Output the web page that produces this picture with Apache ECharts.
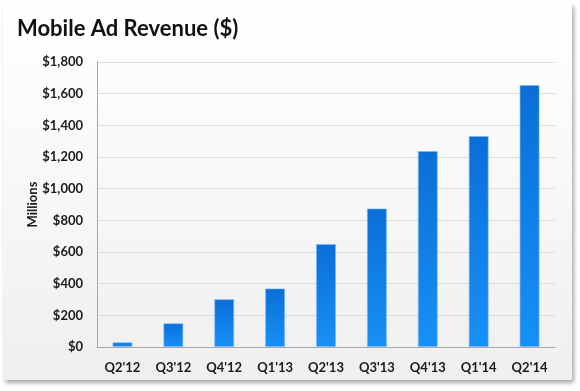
<!DOCTYPE html>
<html>
<head>
<meta charset="utf-8">
<script src="https://cdn.jsdelivr.net/npm/echarts@6/dist/echarts.min.js"></script>
<style>
html,body{margin:0;padding:0;width:580px;height:391px;background:#ffffff;overflow:hidden;}
#card{position:absolute;left:3px;top:3px;width:569px;height:377px;border-radius:3px;
background:linear-gradient(#ffffff 0%,#f9f9f9 40%,#efefef 100%);
box-shadow:2px 3px 4px rgba(0,0,0,0.35);}
#main{position:absolute;left:0;top:0;width:580px;height:391px;}
</style>
</head>
<body>
<div id="card"></div>
<div id="main"></div>
<script>
const categories = ["Q2'12","Q3'12","Q4'12","Q1'13","Q2'13","Q3'13","Q4'13","Q1'14","Q2'14"];
const revenue = [30, 150, 302, 370, 650, 875, 1238, 1333, 1655];
const yTicks = {min: 0, max: 1800, interval: 200};
const titleText = "Mobile Ad Revenue ($)";
const yAxisName = "Millions";

const chart = echarts.init(document.getElementById('main'), null, {renderer: 'canvas'});
chart.setOption({
  backgroundColor: 'transparent',
  animation: false,
  title: {
    text: titleText,
    left: 12, top: 13,
    textStyle: {fontFamily: 'Lato', fontWeight: 'bold', fontSize: 22, color: '#111'}
  },
  grid: {left: 97, right: 25, top: 62, bottom: 44},
  xAxis: {
    type: 'category',
    data: categories,
    axisLine: {lineStyle: {color: '#a8a8a8', width: 1}},
    axisTick: {show: false},
    axisLabel: {fontFamily: 'Lato', fontWeight: 'bold', fontSize: 13, color: '#1a1a1a', margin: 14}
  },
  yAxis: {
    type: 'value',
    min: yTicks.min, max: yTicks.max, interval: yTicks.interval,
    name: yAxisName,
    nameLocation: 'middle',
    nameGap: 58,
    nameMoveOverlap: false,
    nameTextStyle: {fontFamily: 'Lato', fontWeight: 'bold', fontSize: 13, color: '#1a1a1a'},
    axisLine: {show: true, lineStyle: {color: '#a8a8a8', width: 1}},
    axisTick: {show: false},
    splitLine: {lineStyle: {color: '#dedede', width: 1}},
    axisLabel: {
      fontFamily: 'Lato', fontWeight: 'bold', fontSize: 13, color: '#1a1a1a', margin: 14,
      formatter: v => '$' + v.toLocaleString('en-US')
    }
  },
  series: [{
    type: 'bar',
    data: revenue,
    barWidth: 20,
    itemStyle: {
      color: new echarts.graphic.LinearGradient(0, 0, 0, 1, [
        {offset: 0, color: '#0a6fd6'},
        {offset: 1, color: '#1790f6'}
      ]),
      borderColor: 'rgba(120,180,255,0.6)',
      borderWidth: 1
    }
  }]
});
</script>
</body>
</html>
